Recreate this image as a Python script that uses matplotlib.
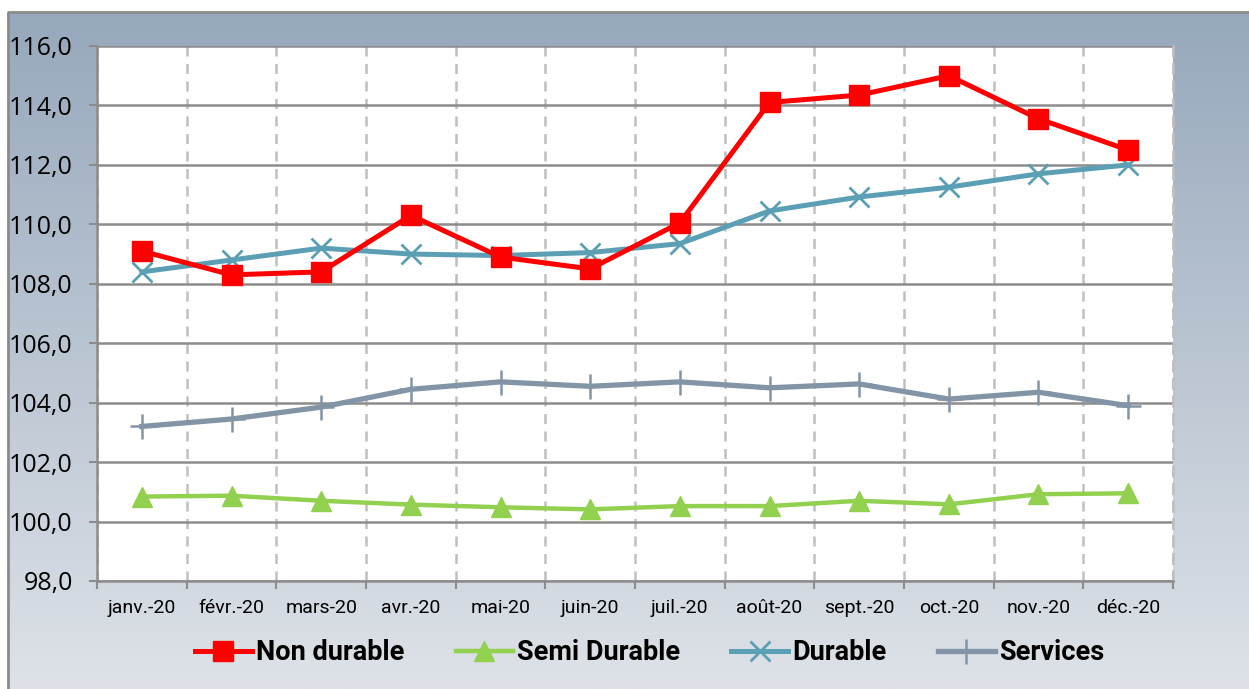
import numpy as np
import matplotlib
matplotlib.use("Agg")
import matplotlib.pyplot as plt
from matplotlib.patches import Rectangle
from matplotlib.ticker import FuncFormatter

# donnees
mois = ["janv.-20", "févr.-20", "mars-20", "avr.-20", "mai-20", "juin-20",
        "juil.-20", "août-20", "sept.-20", "oct.-20", "nov.-20", "déc.-20"]
non_durable = [109.1, 108.3, 108.4, 110.3, 108.9, 108.5, 110.05, 114.1, 114.35, 115.0, 113.55, 112.5]
semi_durable = [100.84, 100.87, 100.70, 100.57, 100.48, 100.41, 100.52, 100.52, 100.70, 100.58, 100.92, 100.95]
durable = [108.4, 108.8, 109.2, 109.0, 108.95, 109.05, 109.35, 110.45, 110.92, 111.25, 111.7, 112.0]
services = [103.2, 103.45, 103.85, 104.45, 104.7, 104.55, 104.7, 104.5, 104.63, 104.12, 104.35, 103.9]

fig = plt.figure(figsize=(12.49, 6.89), dpi=100)

# fond degrade
bg = fig.add_axes([0, 0, 1, 1], zorder=0)
top = np.array([0x95, 0xa7, 0xbb]) / 255
bot = np.array([0xde, 0xe2, 0xe8]) / 255
t = np.linspace(0, 1, 256)[:, None]
grad = top[None, :] * (1 - t) + bot[None, :] * t
bg.imshow(grad[:, None, :], aspect="auto", extent=[0, 1, 0, 1])
bg.add_patch(Rectangle((0, 1 - 12 / 689), 1, 12 / 689, color="white", zorder=2))
bg.add_patch(Rectangle((0, 0), 8 / 1249, 1, color="white", zorder=2))
bg.plot([8 / 1249, 8 / 1249, 1], [0, 1 - 12 / 689, 1 - 12 / 689], color="#8a8a8a", lw=2, zorder=3)
bg.set_xlim(0, 1)
bg.set_ylim(0, 1)
bg.axis("off")

ax = fig.add_axes([97 / 1249, 1 - 581 / 689, 1076 / 1249, 535 / 689], zorder=1)
ax.set_facecolor("white")
x = np.arange(len(mois))

ax.plot(x, non_durable, color="#ff0000", lw=3.6, marker="s", ms=14, label="Non durable", zorder=5)
ax.plot(x, semi_durable, color="#92d050", lw=3.2, marker="^", ms=14, label="Semi Durable", zorder=4)
ax.plot(x, durable, color="#5b9fb5", lw=3.6, marker="x", ms=14, mew=2, label="Durable", zorder=4)
ax.plot(x, services, color="#8394a7", lw=3.8, marker="+", ms=18, mew=1.8, label="Services", zorder=4)

ax.set_xlim(-0.5, 11.5)
ax.set_ylim(98, 116)
ax.set_yticks(np.arange(98, 117, 2))
ax.yaxis.set_major_formatter(FuncFormatter(lambda v, p: f"{v:.1f}".replace(".", ",")))
ax.set_xticks(x)
ax.set_xticklabels(mois)
ax.set_xticks(np.arange(-0.5, 12, 1), minor=True)
ax.tick_params(axis="x", which="major", length=0, pad=13, labelsize=14, labelfontfamily="Roboto")
ax.tick_params(axis="x", which="minor", length=5.5, color="#8c8c8c", width=1.5)
ax.tick_params(axis="y", length=5.5, color="#8c8c8c", width=1.5, labelsize=18, pad=12,
               labelfontfamily="Open Sans")

ax.grid(axis="y", color="#8c8c8c", lw=1.8, zorder=1)
ax.grid(axis="x", which="minor", color="#bfbfbf", lw=1.8, ls=(0, (4, 3)), zorder=1)
ax.set_axisbelow(True)
ax.spines["top"].set_visible(False)
ax.spines["right"].set_color("#bfbfbf")
ax.spines["right"].set_linestyle((0, (4, 3)))
ax.spines["right"].set_linewidth(1.8)
ax.spines["left"].set_color("#8c8c8c")
ax.spines["left"].set_linewidth(1.8)
ax.spines["bottom"].set_color("#8c8c8c")
ax.spines["bottom"].set_linewidth(1.8)

leg = fig.legend(loc="center", bbox_to_anchor=(0.52, 1 - 653 / 689), ncol=4, frameon=False,
                 prop={"family": ["Roboto", "DejaVu Sans"], "weight": "bold", "size": 19.5},
                 handlelength=2.1, handletextpad=0.15, columnspacing=1.9)

fig.savefig("out.png", dpi=100)
